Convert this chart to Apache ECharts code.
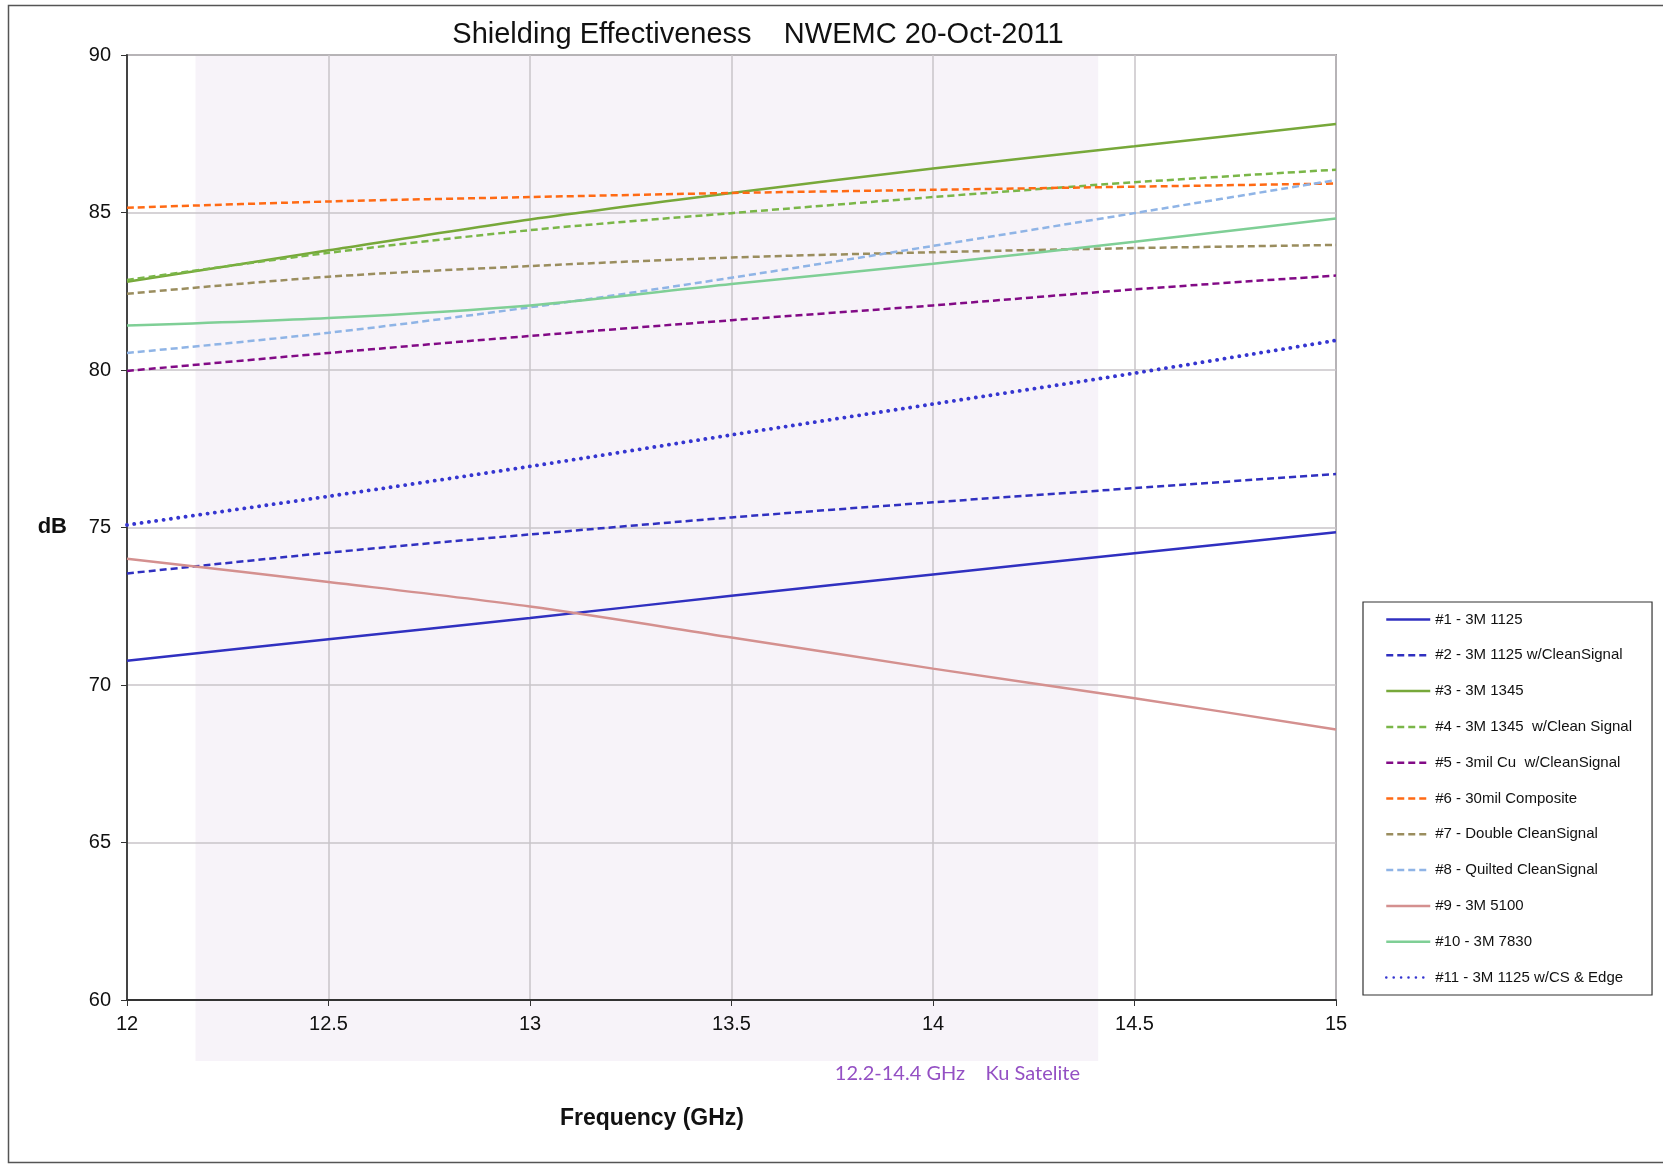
<!DOCTYPE html>
<html>
<head>
<meta charset="utf-8">
<title>Shielding Effectiveness</title>
<script src="https://cdn.jsdelivr.net/npm/echarts@6/dist/echarts.min.js"></script>
<style>
    html, body { margin: 0; padding: 0; background: #fff; }
    #main { width: 1663px; height: 1164px; }
</style>
</head>
<body>
<div id="main"></div>
<script>
// frequency points (GHz)
var freq = [12, 12.5, 13, 13.5, 14, 14.5, 15];

// shielding effectiveness (dB) per sample
var s1 = [70.77, 71.45, 72.13, 72.83, 73.51, 74.18, 74.85];
var s2 = [73.54, 74.20, 74.78, 75.32, 75.80, 76.25, 76.70];
var s3 = [82.80, 83.80, 84.78, 85.62, 86.40, 87.10, 87.81];
var s4 = [82.86, 83.72, 84.44, 84.98, 85.49, 85.96, 86.36];
var s5 = [79.97, 80.54, 81.08, 81.58, 82.05, 82.56, 83.00];
var s6 = [85.15, 85.35, 85.49, 85.62, 85.72, 85.82, 85.92];
var s7 = [82.42, 82.96, 83.30, 83.57, 83.74, 83.87, 83.97];
var s8 = [80.54, 81.18, 81.99, 82.93, 83.94, 84.98, 86.03];
var s9 = [74.01, 73.27, 72.49, 71.51, 70.52, 69.58, 68.59];
var s10 = [81.41, 81.65, 82.05, 82.73, 83.37, 84.07, 84.81];
var s11 = [75.08, 75.99, 76.94, 77.94, 78.92, 79.90, 80.94];

var seriesNames = [
    '#1 - 3M 1125',
    '#2 - 3M 1125 w/CleanSignal',
    '#3 - 3M 1345',
    '#4 - 3M 1345  w/Clean Signal',
    '#5 - 3mil Cu  w/CleanSignal',
    '#6 - 30mil Composite',
    '#7 - Double CleanSignal',
    '#8 - Quilted CleanSignal',
    '#9 - 3M 5100',
    '#10 - 3M 7830',
    '#11 - 3M 1125 w/CS & Edge'
];
var seriesValues = [s1, s2, s3, s4, s5, s6, s7, s8, s9, s10, s11];

// Ku satellite band (GHz)
var bandStart = 12.17;
var bandEnd = 14.41;
// --------------------------------------------------------------------------------------------------------------------
var DASH = [7, 4];
var DOT = [0.1, 7.3];
var styles = [
    { color: '#3030c0', type: 'solid' },
    { color: '#3030c0', type: DASH },
    { color: '#77a83a', type: 'solid' },
    { color: '#7ab648', type: DASH },
    { color: '#820a86', type: DASH },
    { color: '#ff6a14', type: DASH },
    { color: '#9a8d5e', type: DASH },
    { color: '#8fb4e6', type: DASH },
    { color: '#d4908f', type: 'solid' },
    { color: '#7fcf96', type: 'solid' },
    { color: '#3535d0', type: DOT, cap: 'round', width: 3.8 }
];

function pairs(xs, ys) {
    var out = [];
    for (var i = 0; i < xs.length; i++) {
        out.push([xs[i], ys[i]]);
    }
    return out;
}

var series = [];
for (var i = 0; i < seriesNames.length; i++) {
    var st = styles[i];
    series.push({
        name: seriesNames[i],
        type: 'line',
        smooth: 0.3,
        symbol: 'none',
        data: pairs(freq, seriesValues[i]),
        color: st.color,
        lineStyle: {
            color: st.color,
            width: st.width || 2.5,
            type: st.type,
            cap: st.cap || 'butt'
        },
        emphasis: { disabled: true }
    });
}

var chart = echarts.init(document.getElementById('main'));
chart.setOption({
    animation: false,
    backgroundColor: '#fff',
    grid: {
        left: 127, top: 55, width: 1209, height: 945,
        show: true, borderColor: '#5a5a5a', borderWidth: 1.5
    },
    legend: {
        orient: 'vertical',
        left: 1363, top: 602,
        padding: [10, 20, 10, 22],
        itemWidth: 44, itemHeight: 14, itemGap: 20.8,
        borderColor: '#333', borderWidth: 1.2,
        itemStyle: { opacity: 0 },
        lineStyle: { width: 2.5 },
        textStyle: { fontFamily: 'Liberation Sans, Arial', fontSize: 15, color: '#111' },
        data: seriesNames
    },
    xAxis: {
        type: 'value', min: 12, max: 15, interval: 0.5,
        axisLine: { show: true, lineStyle: { color: '#333', width: 2 } },
        axisTick: { show: true, length: 6, lineStyle: { color: '#333' } },
        axisLabel: { margin: 14, fontFamily: 'Liberation Sans Narrow, Liberation Sans', fontSize: 20, color: '#111' },
        splitLine: { show: true, lineStyle: { color: '#c8c4c8', width: 1.5 } }
    },
    yAxis: {
        type: 'value', min: 60, max: 90, interval: 5,
        axisLine: { show: true, lineStyle: { color: '#444', width: 2 } },
        axisTick: { show: true, length: 6, lineStyle: { color: '#333' } },
        axisLabel: { margin: 16, fontFamily: 'Liberation Sans Narrow, Liberation Sans', fontSize: 20, color: '#111' },
        splitLine: { show: true, lineStyle: { color: '#c8c4c8', width: 1.5 } }
    },
    series: series
});

// band rectangle and free texts, placed through the axis scales
var pTop = chart.convertToPixel({ gridIndex: 0 }, [bandStart, 90]);
var pBot = chart.convertToPixel({ gridIndex: 0 }, [bandEnd, 60]);
chart.setOption({
    graphic: [
        {
            type: 'rect', z: -1, silent: true,
            shape: { x: pTop[0], y: pTop[1], width: pBot[0] - pTop[0], height: pBot[1] - pTop[1] + 61 },
            style: { fill: '#f7f3f9' }
        },
        {
            type: 'rect', silent: true,
            shape: { x: 8.5, y: 5.5, width: 1700, height: 1157 },
            style: { fill: 'none', stroke: '#555', lineWidth: 1.5 }
        },
        {
            type: 'text', silent: true,
            style: {
                text: 'Shielding Effectiveness    NWEMC 20-Oct-2011',
                x: 758, y: 35, align: 'center', verticalAlign: 'middle',
                font: '29px "Liberation Sans", Arial', fill: '#111'
            }
        },
        {
            type: 'text', silent: true,
            style: {
                text: 'dB', x: 67, y: 527, align: 'right', verticalAlign: 'middle',
                font: 'bold 22px "Liberation Sans", Arial', fill: '#111'
            }
        },
        {
            type: 'text', silent: true,
            style: {
                text: 'Frequency (GHz)', x: 652, y: 1119, align: 'center', verticalAlign: 'middle',
                font: 'bold 23px "Liberation Sans", Arial', fill: '#111'
            }
        },
        {
            type: 'text', silent: true,
            style: {
                text: '12.2-14.4 GHz    Ku Satelite', x: 1080, y: 1074, align: 'right', verticalAlign: 'middle',
                font: '20px Lato, "Open Sans"', fill: '#9450c4'
            }
        }
    ]
});
</script>
</body>
</html>
